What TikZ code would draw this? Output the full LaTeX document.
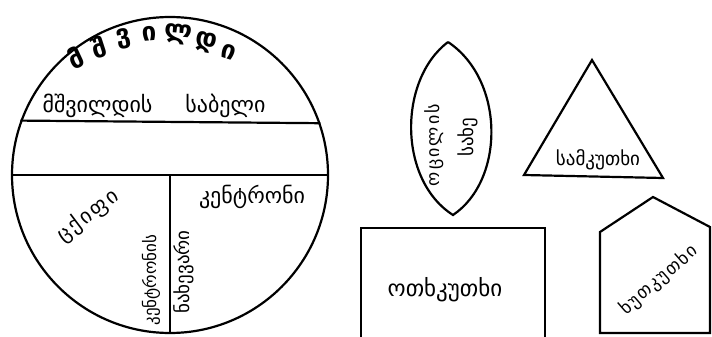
\documentclass[tikz,border=0pt]{standalone}
\usepackage{fontspec}
\newfontfamily\geo{DejaVu Sans}
\tikzset{
  fig/.style={draw, line width=2.2pt},
  geotxt/.style={font=\geo\fontsize{22}{22}\selectfont, inner sep=0pt},
  geomid/.style={font=\geo\fontsize{19}{19}\selectfont, inner sep=0pt},
  geosmall/.style={font=\geo\fontsize{17}{17}\selectfont, inner sep=0pt},
  bigl/.style={font=\geo\bfseries\fontsize{26}{26}\selectfont, inner sep=0pt},
}
\begin{document}
\begin{tikzpicture}[x=1pt,y=-1pt]
\useasboundingbox (0,0) rectangle (712,337);
\fill[white] (0,0) rectangle (712,337);
% circle
\node[fig, circle, minimum size=316pt, inner sep=0pt] (circ) at (170,175) {};
\draw[fig] (circ.160.4) -- (circ.19.6);
\draw[fig] (circ.180) -- (circ.0);
\draw[fig] (circ.center) -- (circ.south);
% bow letters
\node[bigl, rotate=25] (b1) at (76,58) {მ};
\node[bigl, rotate=18] (b2) at (99,47) {შ};
\node[bigl, rotate=12] (b3) at (124,39) {ვ};
\node[bigl, rotate=5] (b4) at (149,34) {ი};
\node[bigl, rotate=-5] (b5) at (178,34) {ლ};
\node[bigl, rotate=-12] (b6) at (206,43) {დ};
\node[bigl, rotate=-18] (b7) at (229,52) {ი};
\node[geotxt, anchor=base] (chord) at (154,112) {მშვილდის\hspace{1.5em}საბელი};
\node[geotxt, font=\geo\fontsize{21}{21}\selectfont\addfontfeatures{LetterSpace=12}, rotate=37] (quad) at (88,216) {ცქიფი};
\node[geotxt, anchor=base] (cent) at (252,203) {კენტრონი};
\node[geosmall, rotate=90] (vl) at (151,280) {კენტრონის};
\node[geomid, rotate=90] (vr) at (184,272) {ნახევარი};
% lens
\coordinate (lt) at (448,42);
\coordinate (lb) at (453,215);
\draw[fig] (lt) .. controls (398,80) and (398,180) .. (lb) .. controls (505,180) and (505,80) .. (lt);
\node[geosmall, rotate=90, font=\geo\fontsize{18}{18}\selectfont\addfontfeatures{LetterSpace=12}] (lensa) at (434,145) {ოცილის};
\node[geomid, rotate=90] (lensb) at (468,137) {სახე};
% triangle
\coordinate (ta) at (592,60);
\coordinate (tb) at (524,175);
\coordinate (tc) at (663,178);
\draw[fig] (ta) -- (tb) -- (tc) -- cycle;
\node[geomid] (tri) at (598,160) {სამკუთხი};
% rectangle (open at the lower edge of the picture)
\coordinate (r1) at (361,337);
\coordinate (r2) at (361,228);
\coordinate (r3) at (545,228);
\coordinate (r4) at (545,337);
\draw[fig] (r1) -- (r2) -- (r3) -- (r4);
\node[geotxt, font=\geo\fontsize{23}{23}\selectfont] (rect) at (445,290) {ოთხკუთხი};
% pentagon
\coordinate (p1) at (600,333);
\coordinate (p2) at (600,232);
\coordinate (p3) at (653,197);
\coordinate (p4) at (710,227);
\coordinate (p5) at (710,333);
\draw[fig] (p1) -- (p2) -- (p3) -- (p4) -- (p5) -- cycle;
\node[geomid, rotate=41, font=\geo\fontsize{18}{18}\selectfont\addfontfeatures{LetterSpace=8}] (pent) at (659,280) {ხუთკუთხი};
\end{tikzpicture}
\end{document}
